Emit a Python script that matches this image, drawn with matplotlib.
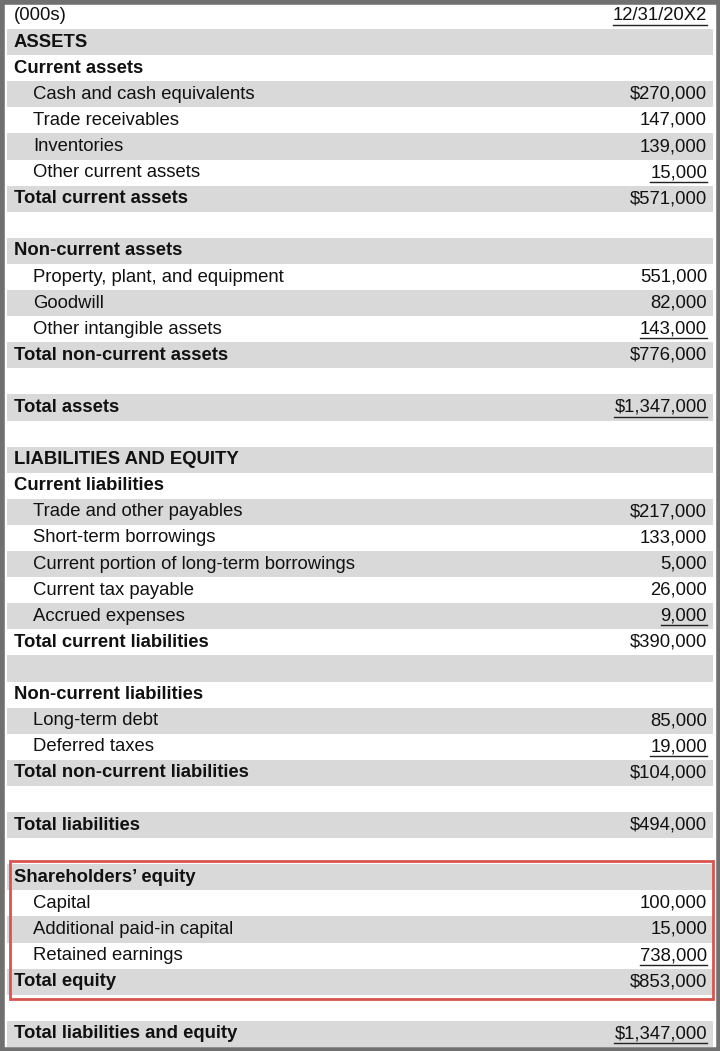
import matplotlib
matplotlib.use("Agg")
import matplotlib.pyplot as plt
from matplotlib.patches import Rectangle

labels = ["(000s)", "ASSETS", "Current assets", "Cash and cash equivalents", "Trade receivables",
          "Inventories", "Other current assets", "Total current assets", "", "Non-current assets",
          "Property, plant, and equipment", "Goodwill", "Other intangible assets", "Total non-current assets",
          "", "Total assets", "", "LIABILITIES AND EQUITY", "Current liabilities", "Trade and other payables",
          "Short-term borrowings", "Current portion of long-term borrowings", "Current tax payable",
          "Accrued expenses", "Total current liabilities", "", "Non-current liabilities", "Long-term debt",
          "Deferred taxes", "Total non-current liabilities", "", "Total liabilities", "",
          "Shareholders\u2019 equity", "Capital", "Additional paid-in capital", "Retained earnings",
          "Total equity", "", "Total liabilities and equity"]
values = ["12/31/20X2", "", "", "$270,000", "147,000", "139,000", "15,000", "$571,000", "", "",
          "551,000", "82,000", "143,000", "$776,000", "", "$1,347,000", "", "", "", "$217,000",
          "133,000", "5,000", "26,000", "9,000", "$390,000", "", "", "85,000", "19,000", "$104,000",
          "", "$494,000", "", "", "100,000", "15,000", "738,000", "$853,000", "", "$1,347,000"]
bold = {1, 2, 7, 9, 13, 15, 17, 18, 24, 26, 29, 31, 33, 37, 39}
indent = {3, 4, 5, 6, 10, 11, 12, 19, 20, 21, 22, 23, 27, 28, 34, 35, 36}
underlined = {0, 6, 12, 15, 23, 28, 36, 39}

plt.rcParams['font.family'] = ['Liberation Sans', 'DejaVu Sans']
fig = plt.figure(figsize=(7.2, 10.51), dpi=100)
ax = fig.add_axes([0, 0, 1, 1])
ax.set_xlim(0, 720)
ax.set_ylim(1051, 0)
ax.axis("off")

h = 26.1
fs = 13.3
for i, (lab, val) in enumerate(zip(labels, values)):
    y = 16 + h * i
    if i % 2 == 1:
        ax.add_patch(Rectangle((7, y - h / 2), 706, h, color="#d9d9d9", lw=0, zorder=0))
    x = 33 if i in indent else 14
    ax.text(x, y, lab, fontsize=fs, va="center", ha="left",
            fontweight="bold" if i in bold else "normal", color="#111111")
    if val:
        t = ax.text(707, y, val, fontsize=fs, va="center", ha="right", color="#111111")
        if i in underlined:
            fig.canvas.draw()
            bb = t.get_window_extent().transformed(ax.transData.inverted())
            ax.plot([bb.x0, bb.x1], [y + 9, y + 9], color="#222222", lw=1)

# red highlight box
ax.add_patch(Rectangle((10, 861), 703, 138, fill=False, ec="#d9534f", lw=2, zorder=5))
# outer frame
ax.add_patch(Rectangle((1.5, 1.5), 717, 1048, fill=False, ec="#707070", lw=4, zorder=6))

fig.savefig("out.png", dpi=100, facecolor="white")
